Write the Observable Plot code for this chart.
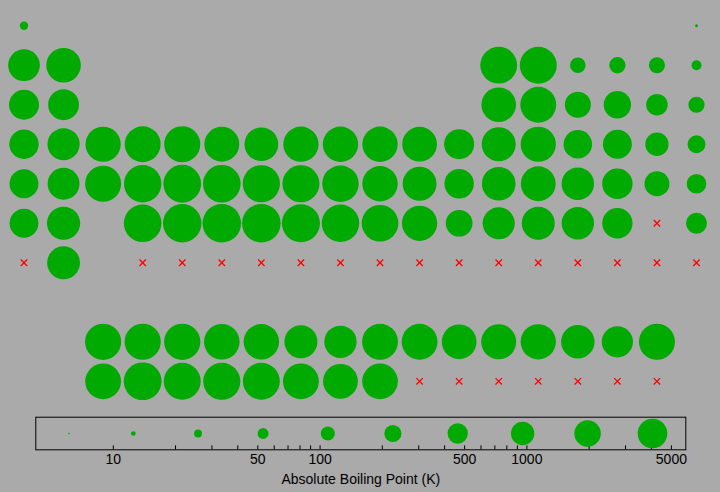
<!DOCTYPE html>
<html>
<head>
<meta charset="utf-8">
<script src="https://cdn.jsdelivr.net/npm/d3@7"></script>
<script src="https://cdn.jsdelivr.net/npm/@observablehq/plot@0.6"></script>
<style>
  html, body { margin: 0; padding: 0; background: #aaaaaa; }
  #chart svg { display: block; }
</style>
</head>
<body>
<div id="chart"></div>
<script>
// Element symbols (atomic number order)
const symbols = ["H","He","Li","Be","B","C","N","O","F","Ne",
  "Na","Mg","Al","Si","P","S","Cl","Ar",
  "K","Ca","Sc","Ti","V","Cr","Mn","Fe","Co","Ni","Cu","Zn","Ga","Ge","As","Se","Br","Kr",
  "Rb","Sr","Y","Zr","Nb","Mo","Tc","Ru","Rh","Pd","Ag","Cd","In","Sn","Sb","Te","I","Xe",
  "Cs","Ba","La","Ce","Pr","Nd","Pm","Sm","Eu","Gd","Tb","Dy","Ho","Er","Tm","Yb","Lu",
  "Hf","Ta","W","Re","Os","Ir","Pt","Au","Hg","Tl","Pb","Bi","Po","At","Rn",
  "Fr","Ra","Ac","Th","Pa","U","Np","Pu","Am","Cm","Bk","Cf","Es","Fm","Md","No","Lr",
  "Rf","Db","Sg","Bh","Hs","Mt","Ds","Rg","Cn","Nh","Fl","Mc","Lv","Ts","Og"];

// Table column (group) of each element
const tableCol = [1,18, 1,2,13,14,15,16,17,18, 1,2,13,14,15,16,17,18,
  1,2,3,4,5,6,7,8,9,10,11,12,13,14,15,16,17,18,
  1,2,3,4,5,6,7,8,9,10,11,12,13,14,15,16,17,18,
  1,2, 3,4,5,6,7,8,9,10,11,12,13,14,15,16,17,
  4,5,6,7,8,9,10,11,12,13,14,15,16,17,18,
  1,2, 3,4,5,6,7,8,9,10,11,12,13,14,15,16,17,
  4,5,6,7,8,9,10,11,12,13,14,15,16,17,18];

// Table row of each element (9 = lanthanides, 10 = actinides)
const tableRow = [1,1, 2,2,2,2,2,2,2,2, 3,3,3,3,3,3,3,3,
  4,4,4,4,4,4,4,4,4,4,4,4,4,4,4,4,4,4,
  5,5,5,5,5,5,5,5,5,5,5,5,5,5,5,5,5,5,
  6,6, 9,9,9,9,9,9,9,9,9,9,9,9,9,9,9,
  6,6,6,6,6,6,6,6,6,6,6,6,6,6,6,
  7,7, 10,10,10,10,10,10,10,10,10,10,10,10,10,10,10,
  7,7,7,7,7,7,7,7,7,7,7,7,7,7,7];

// Absolute boiling point (K); null = unknown
const boilingK = [20.28,4.22, 1615,2742,4200,4300,77.36,90.2,85.03,27.07,
  1156,1363,2792,3538,553.6,717.87,239.11,87.3,
  1032,1757,3109,3560,3680,2944,2334,3134,3200,3186,2835,1180,2477,3106,887,958,332,119.93,
  961,1655,3609,4682,5017,4912,4538,4423,3968,3236,2435,1040,2345,2875,1860,1261,457.4,165.1,
  944,2143, 3737,3716,3793,3347,3273,2067,1802,3546,3503,2840,2993,3141,2223,1469,3675,
  4876,5731,5828,5869,5285,4701,4098,3129,629.88,1746,2022,1837,1235,null,211.3,
  null,2010, 3471,5061,4300,4404,4273,3501,2880,3383,null,null,null,null,null,null,null,
  null,null,null,null,null,null,null,null,null,null,null,null,null,null,null];

// Legend sample values (K) and axis ticks
const legendValues = [6.1, 12.5, 25.7, 53, 109, 225, 463, 954, 1966, 4050];
const tickLabels = [10, 50, 100, 500, 1000, 5000];
const minorTicks = [20,30,40,60,70,80,90,200,300,400,600,700,800,900,2000,3000,4000];
const axisTitle = "Absolute Boiling Point (K)";

const elements = symbols.map((s, i) => ({symbol: s, col: tableCol[i], row: tableRow[i], bp: boilingK[i]}));
const known = elements.filter(d => d.bp != null);
const unknown = elements.filter(d => d.bp == null);

const GREEN = "#00aa00";
const BG = "#aaaaaa";
const FONT = "'Liberation Sans', Arial, Helvetica, sans-serif";
const rDomain = [4.22, 6.06, 5869];

const main = Plot.plot({
  width: 720,
  height: 400,
  margin: 0,
  style: {background: BG, fontFamily: FONT},
  x: {domain: [1, 18], range: [23.5, 696], axis: null},
  y: {domain: [1, 10], range: [25.2, 380.8], axis: null},
  r: {type: "log", domain: rDomain, range: [1.5, 0.97, 19.3]},
  marks: [
    Plot.dot(known, {x: "col", y: "row", r: "bp", fill: GREEN, stroke: "none"}),
    Plot.dot(unknown, {x: "col", y: "row", r: 3, symbol: "times", stroke: "#ff0000", strokeWidth: 1.3})
  ]
});

const legend = Plot.plot({
  width: 720,
  height: 92,
  marginLeft: 35.3,
  marginRight: 34.7,
  marginTop: 16.7,
  marginBottom: 42.7,
  style: {background: BG, fontFamily: FONT, fontSize: "14px", color: "black"},
  x: {type: "log", domain: [4.22, 5869], axis: null},
  y: {domain: [0, 1], axis: null},
  r: {type: "log", domain: rDomain, range: [1.2, 0.8, 15.6]},
  marks: [
    Plot.frame({stroke: "black", strokeWidth: 1}),
    Plot.ruleX(minorTicks, {x: d => d, y1: 0, y2: 0.12, stroke: "black", strokeWidth: 1}),
    Plot.ruleX(tickLabels, {x: d => d, y1: 0, y2: 0.12, stroke: "black", strokeWidth: 1}),
    Plot.text(tickLabels, {x: d => d, y: 0, text: d => String(d), lineAnchor: "top", dy: 4, fontSize: 14, fill: "black"}),
    Plot.text([axisTitle], {frameAnchor: "bottom", text: d => d, lineAnchor: "top", dy: 24, fontSize: 14, fill: "black"}),
    Plot.dot(legendValues, {x: d => d, y: 0.5, r: d => d, fill: GREEN, stroke: "none"})
  ]
});

const chart = document.getElementById("chart");
chart.appendChild(main);
chart.appendChild(legend);
</script>
</body>
</html>
